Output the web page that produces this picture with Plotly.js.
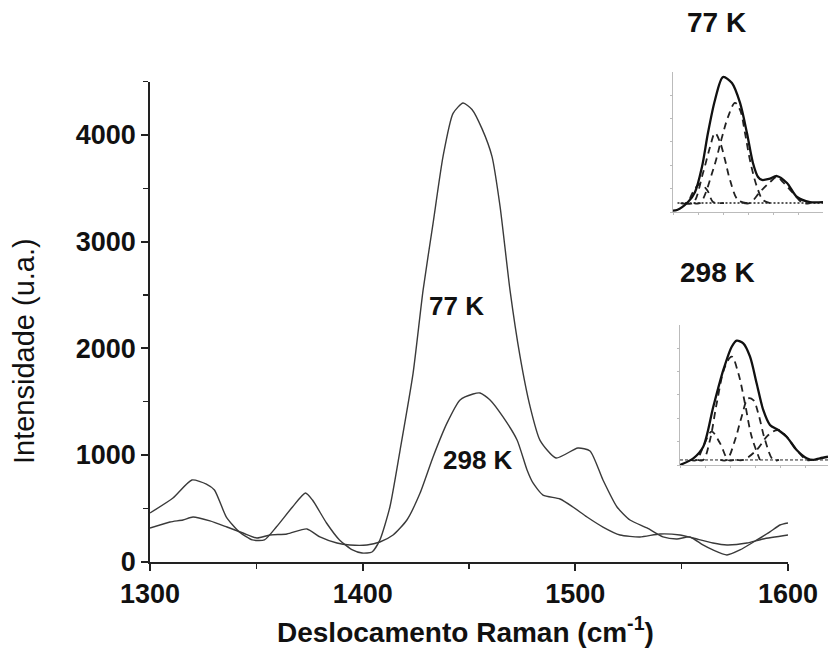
<!DOCTYPE html>
<html>
<head>
<meta charset="utf-8">
<script src="https://cdn.plot.ly/plotly-3.0.1.min.js"></script>
<style>html,body{margin:0;padding:0;background:#fff}#chart{width:828px;height:648px}</style>
</head>
<body>
<div id="chart"></div>
<script>
// Main spectra (Raman shift cm-1, intensity u.a.)
const shift77 = [1300,1310.8,1319.7,1326.5,1330.3,1335.9,1342,1348.1,1353.8,1359.4,1367,1373.1,1376.4,1383,1389.1,1395.2,1399.7,1404.4,1408.1,1412.8,1417.6,1423.7,1428.4,1433.1,1437.8,1442.5,1447.2,1451.4,1456.1,1460.8,1464.6,1469.3,1474,1478.7,1483.4,1490.9,1501.2,1506.9,1513,1519.6,1525.7,1533.7,1541.2,1547.8,1553.9,1560,1564.7,1571.3,1577.4,1585.4,1591.5,1596.2,1600];
const int77   = [457,597,766,728,672,419,279,204,204,325,513,644,578,363,204,110,81,91,204,513,1047,1766,2544,3172,3800,4203,4300,4240,4060,3800,3331,2544,1925,1456,1138,972,1066,1038,766,513,391,316,232,213,232,157,110,63,110,204,279,344,363];
const shift298 = [1300,1309.4,1315.5,1320.2,1328.2,1336.2,1343.7,1350.3,1356.4,1364.4,1373.8,1379.9,1387.9,1394,1402,1408.1,1414.3,1420.8,1427,1433.1,1439.7,1445.8,1451.9,1455.2,1459.9,1466,1472.6,1477.3,1480.1,1484.8,1492.8,1498.9,1505.5,1513,1521,1530.4,1539.8,1549.2,1555.3,1564.7,1571.3,1580.7,1588.2,1600];
const int298   = [316,372,391,419,382,325,269,222,250,260,307,232,175,157,157,185,250,391,644,982,1301,1516,1572,1582,1516,1357,1141,860,738,625,588,513,419,325,250,232,260,250,222,175,157,175,213,250];

const xTickVals = [1300,1400,1500,1600];
const yTickVals = [0,1000,2000,3000,4000];

// Inset 77 K (relative units)
const in77x   = [0,2.7,10,14.7,19.3,23.3,28,33.3,39.3,44.7,49.3,53.3,56.7,59.3,64,69.3,76,82.7,91.3,100];
const in77y   = [1,1.4,7.1,14.3,32.1,56.4,80,96.4,92.1,77.9,56.4,35,25,22.9,23.6,25.7,20.7,10.7,7.1,7.1];
const in77g1x = [5,9.3,13.3,18,22.7,26.7,30,34];
const in77g1y = [6.4,6.4,14.3,20,15.7,7.1,6.4,6.4];
const in77g2x = [8,13.3,20,24.7,28,31.3,34.7,38,43.3,49.3];
const in77g2y = [6.4,6.4,27.9,46.4,56.4,50,37.1,22.9,8.6,6.4];
const in77g3x = [14,18,26.7,32.7,36.7,41.3,44.7,48,51.3,56,60,64.7];
const in77g3y = [6.4,6.4,30,53.6,67.9,77.9,72.9,56.4,37.1,17.9,8.6,6.4];
const in77g4x = [47,51.3,58,64.7,69.3,73.3,80,86.7,91.3];
const in77g4y = [6.4,6.4,14.3,21.4,25,21.4,13.6,6.4,6.4];
const in77base = [6.4,6.4];
const in77baseX = [3,100];

// Inset 298 K (relative units)
const in298x   = [0,1.1,8.9,15.5,22.2,28.9,34.5,37.8,42.2,46.7,51.1,55.5,60,65.5,71.1,77.8,84.5,88.9,93.3,98.7];
const in298y   = [0,0.5,4.8,13.1,41.6,67.9,84.5,88.8,86.9,77.4,58.4,39.3,28.6,25,20.2,10.7,4.8,3.6,4.8,5.9];
const in298g1x = [7,11.1,15.5,21.1,26.7,32.2,36];
const in298g1y = [3.6,3.6,13.1,23.8,15.5,3.6,3.6];
const in298g2x = [12,15.5,20,24.5,30,34.5,38.9,43.3,47.8,53.3];
const in298g2y = [3.6,3.6,17.9,44.1,70.2,77.4,65.5,44.1,20.2,3.6];
const in298g3x = [27,31.1,36.7,41.1,45.5,48.9,52.2,56.7,62.2,66];
const in298g3y = [3.6,3.6,17.9,34.5,47.6,46.4,36.9,17.9,3.6,3.6];
const in298g4x = [38,42.2,51.1,58.9,65.5,71.1,77.8,84.5,88];
const in298g4y = [3.6,3.6,10.7,21.4,25,20.2,10.7,3.6,3.6];
const in298base = [3.6,3.6];
const in298baseX = [0,98.7];

const FONT = 'Liberation Sans, Arial, sans-serif';
const mainLine = {color:'#3a3a3a', width:1.4, shape:'spline', smoothing:0.6};
const solidIn = {color:'#111', width:2.3, shape:'spline', smoothing:0.8};
const dashIn = {color:'#222', width:1.8, dash:'7px,5px', shape:'spline', smoothing:1};

const traces = [
  {x:shift77, y:int77, mode:'lines', line:mainLine, xaxis:'x', yaxis:'y', hoverinfo:'skip'},
  {x:shift298, y:int298, mode:'lines', line:mainLine, xaxis:'x', yaxis:'y', hoverinfo:'skip'},

  {x:in77baseX, y:in77base, mode:'lines', line:{color:'#222', width:1.6, dash:'2px,2px'}, xaxis:'x2', yaxis:'y2'},
  {x:in77g1x, y:in77g1y, mode:'lines', line:dashIn, xaxis:'x2', yaxis:'y2'},
  {x:in77g2x, y:in77g2y, mode:'lines', line:dashIn, xaxis:'x2', yaxis:'y2'},
  {x:in77g3x, y:in77g3y, mode:'lines', line:dashIn, xaxis:'x2', yaxis:'y2'},
  {x:in77g4x, y:in77g4y, mode:'lines', line:dashIn, xaxis:'x2', yaxis:'y2'},
  {x:in77x, y:in77y, mode:'lines', line:solidIn, xaxis:'x2', yaxis:'y2'},

  {x:in298baseX, y:in298base, mode:'lines', line:{color:'#222', width:1, dash:'3px,2px'}, xaxis:'x3', yaxis:'y3'},
  {x:in298g1x, y:in298g1y, mode:'lines', line:dashIn, xaxis:'x3', yaxis:'y3'},
  {x:in298g2x, y:in298g2y, mode:'lines', line:dashIn, xaxis:'x3', yaxis:'y3'},
  {x:in298g3x, y:in298g3y, mode:'lines', line:dashIn, xaxis:'x3', yaxis:'y3'},
  {x:in298g4x, y:in298g4y, mode:'lines', line:dashIn, xaxis:'x3', yaxis:'y3'},
  {x:in298x, y:in298y, mode:'lines', line:solidIn, xaxis:'x3', yaxis:'y3'}
];

const insetAxis = (dom, range, anchor) => ({
  domain:dom, range:range, anchor:anchor, showgrid:false, zeroline:false,
  showline:true, linecolor:'#bbb', linewidth:1.2, ticks:'outside', ticklen:2,
  tickcolor:'#bbb', showticklabels:false, dtick:16.7, fixedrange:true
});

const layout = {
  width:828, height:648,
  margin:{l:0, r:0, t:0, b:0},
  paper_bgcolor:'#fff', plot_bgcolor:'rgba(0,0,0,0)',
  showlegend:false,
  font:{family:FONT, color:'#111'},
  xaxis:{
    domain:[150/828, 788/828], range:[1300,1600], anchor:'y',
    showgrid:false, zeroline:false, showline:true, linecolor:'#222', linewidth:1.8,
    ticks:'outside', ticklen:7, tickwidth:1.8, tickcolor:'#222',
    tickvals:xTickVals, ticktext:xTickVals.map(String),
    minor:{dtick:50, tick0:1300, ticks:'outside', ticklen:5, tickwidth:1.5, tickcolor:'#222'},
    tickfont:{family:FONT, size:27, color:'#111', weight:'bold'}
  },
  yaxis:{
    domain:[(648-561.7)/648, (648-81.7)/648], range:[0,4500], anchor:'x',
    showgrid:false, zeroline:false, showline:true, linecolor:'#222', linewidth:1.8,
    ticks:'outside', ticklen:7, tickwidth:1.8, tickcolor:'#222',
    tickvals:yTickVals, ticktext:yTickVals.map(String),
    minor:{dtick:500, tick0:0, ticks:'outside', ticklen:5, tickwidth:1.5, tickcolor:'#222'},
    tickfont:{family:FONT, size:27, color:'#111', weight:'bold'}
  },
  xaxis2: insetAxis([673/828, 823/828], [0,100], 'y2'),
  yaxis2: insetAxis([(648-212)/648, (648-72)/648], [0,100], 'x2'),
  xaxis3: insetAxis([680/828, 1], [0,98.7], 'y3'),
  yaxis3: insetAxis([(648-465)/648, (648-325)/648], [0,100], 'x3'),
  annotations:[
    {text:'Intensidade (u.a.)', xref:'paper', yref:'paper', x:24/828, y:(648-351)/648, textangle:-90,
     showarrow:false, font:{family:FONT, size:29, color:'#111'}, xanchor:'center', yanchor:'middle'},
    {text:'Deslocamento Raman (cm<sup>-1</sup>)', xref:'paper', yref:'paper', x:465/828, y:(648-630)/648,
     showarrow:false, font:{family:FONT, size:28, color:'#111', weight:'bold'}, xanchor:'center', yanchor:'middle'},
    {text:'77 K', xref:'x', yref:'y', x:1444, y:2400, showarrow:false, xanchor:'center', yanchor:'middle',
     font:{family:FONT, size:26, color:'#111', weight:'bold'}},
    {text:'298 K', xref:'x', yref:'y', x:1454, y:950, showarrow:false, xanchor:'center', yanchor:'middle',
     font:{family:FONT, size:26, color:'#111', weight:'bold'}},
    {text:'77 K', xref:'paper', yref:'paper', x:716/828, y:(648-22)/648, showarrow:false, xanchor:'center', yanchor:'middle',
     font:{family:FONT, size:28, color:'#111', weight:'bold'}},
    {text:'298 K', xref:'paper', yref:'paper', x:717/828, y:(648-272)/648, showarrow:false, xanchor:'center', yanchor:'middle',
     font:{family:FONT, size:28, color:'#111', weight:'bold'}}
  ]
};

Plotly.newPlot('chart', traces, layout, {staticPlot:true, displayModeBar:false});
</script>
</body>
</html>
